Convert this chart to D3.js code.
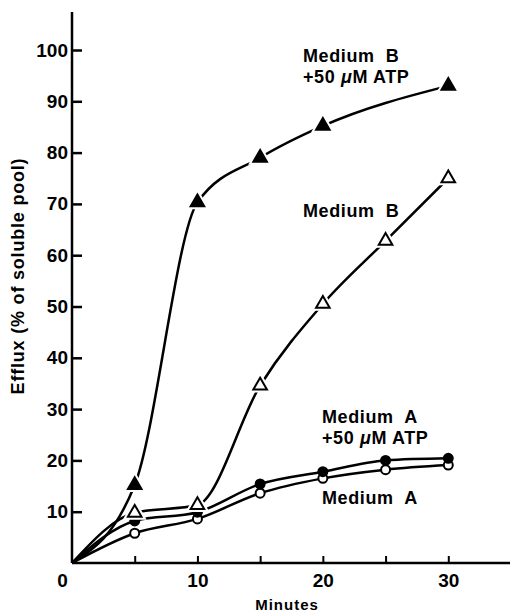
<!DOCTYPE html>
<meta charset='utf-8'>
<html>
<head>
<script src="https://d3js.org/d3.v7.min.js" charset="utf-8"></script>
<style>
  body { margin: 0; background: #fff; }
  text { font-family: "Liberation Sans", Arial, sans-serif; fill: #000; }
  .lab { font-size: 18px; font-weight: bold; white-space: pre; letter-spacing: 0.6px; }
</style>
</head>
<body>
<div id="chart-container"></div>
<script>
// minutes sampled
const minutes = [0, 5, 10, 15, 20, 25, 30];
// series values (% of soluble pool), null = no point
const mediumBAtp = [0, 15.2, 70.3, 79.0, 85.2, null, 93.0];
const mediumB    = [0, 9.8, 11.3, 34.6, 50.5, 62.8, 75.0];
const mediumAAtp = [0, 8.2, 9.9, 15.4, 17.8, 20.0, 20.4];
const mediumA    = [0, 5.8, 8.6, 13.6, 16.5, 18.2, 19.1];
const yTicks = [10, 20, 30, 40, 50, 60, 70, 80, 90, 100];
const xTicks = [0, 10, 20, 30];
const xMinor = [5, 10, 15, 20, 25, 30];

const svgWidth = 510, svgHeight = 613;
const svg = d3.select('#chart-container').append('svg')
  .attr('width', svgWidth).attr('height', svgHeight);

// scales
const x = d3.scaleLinear().domain([0, 35]).range([72, 511]);
const y = d3.scaleLinear().domain([0, 100]).range([563, 50]);

// y axis line (runs a bit above 100)
svg.append('line')
  .attr('x1', x(0)).attr('x2', x(0))
  .attr('y1', y(0)).attr('y2', 12)
  .attr('stroke', '#000').attr('stroke-width', 2.5);
// x axis line
svg.append('line')
  .attr('x1', x(0)).attr('x2', x(35))
  .attr('y1', y(0)).attr('y2', y(0))
  .attr('stroke', '#000').attr('stroke-width', 2.5);

const yAxis = svg.append('g')
  .attr('transform', 'translate(' + x(0) + ',0)')
  .call(d3.axisLeft(y).tickValues(yTicks).tickSize(-10).tickPadding(4));
yAxis.select('.domain').remove();
yAxis.selectAll('line').attr('stroke-width', 2.5);
yAxis.selectAll('text')
  .style('font-size', '19px').style('font-weight', 'bold')
  .style('font-family', '"Liberation Sans", Arial, sans-serif');

const xMinorAxis = svg.append('g')
  .attr('transform', 'translate(0,' + y(0) + ')')
  .call(d3.axisBottom(x).tickValues(xMinor).tickSize(-7).tickFormat(''));
xMinorAxis.select('.domain').remove();
xMinorAxis.selectAll('line').attr('stroke-width', 2);

const xAxis = svg.append('g')
  .attr('transform', 'translate(0,' + y(0) + ')')
  .call(d3.axisBottom(x).tickValues(xTicks).tickSize(0).tickPadding(11));
xAxis.select('.domain').remove();
xAxis.selectAll('text')
  .style('font-size', '19px').style('font-weight', 'bold')
  .style('font-family', '"Liberation Sans", Arial, sans-serif')
  .attr('dx', d => d === 0 ? -10 : 0);

// axis titles
svg.append('text')
  .attr('transform', 'translate(24,' + 276 + ') rotate(-90)')
  .attr('text-anchor', 'middle')
  .style('font-size', '18px').style('font-weight', 'bold')
  .style('letter-spacing', '0.8px')
  .text('Efflux (% of soluble pool)');
svg.append('text')
  .attr('x', 287).attr('y', 610)
  .attr('text-anchor', 'middle')
  .style('font-size', '15px').style('font-weight', 'bold')
  .style('letter-spacing', '1px')
  .text('Minutes');

// lines
const line = d3.line()
  .x(d => x(d[0])).y(d => y(d[1]))
  .curve(d3.curveMonotoneX);

const series = [
  {vals: mediumA, mark: 'circle', fill: '#fff'},
  {vals: mediumAAtp, mark: 'circle', fill: '#000'},
  {vals: mediumB, mark: 'triangle', fill: '#fff'},
  {vals: mediumBAtp, mark: 'triangle', fill: '#000'}
];

series.forEach(s => {
  const pts = minutes.map((m, i) => [m, s.vals[i]]).filter(d => d[1] !== null);
  svg.append('path')
    .datum(pts)
    .attr('d', line)
    .attr('fill', 'none')
    .attr('stroke', '#000')
    .attr('stroke-width', 2.5);
});

// markers, with a thin white halo so lines stop short of them
const tri = d3.symbol().type(d3.symbolTriangle).size(80);
series.forEach(s => {
  const pts = minutes.map((m, i) => [m, s.vals[i]]).filter(d => d[1] !== null && d[0] > 0);
  const g = svg.append('g');
  if (s.mark === 'circle') {
    g.selectAll('circle').data(pts).enter().append('circle')
      .attr('cx', d => x(d[0])).attr('cy', d => y(d[1]))
      .attr('r', 4.5)
      .attr('fill', s.fill).attr('stroke', '#000').attr('stroke-width', 2);
  } else {
    g.selectAll('.halo').data(pts).enter().append('path')
      .attr('d', tri)
      .attr('transform', d => 'translate(' + x(d[0]) + ',' + y(d[1]) + ')')
      .attr('fill', '#fff').attr('stroke', '#fff').attr('stroke-width', 6);
    g.selectAll('.mk').data(pts).enter().append('path')
      .attr('d', tri)
      .attr('transform', d => 'translate(' + x(d[0]) + ',' + y(d[1]) + ')')
      .attr('fill', s.fill).attr('stroke', '#000').attr('stroke-width', 2);
  }
});

// annotations
function label(xp, yp, lines) {
  const t = svg.append('text').attr('class', 'lab');
  lines.forEach((l, i) => {
    const ts = t.append('tspan').attr('x', xp).attr('y', yp + i * 21);
    if (l.indexOf('μ') >= 0) {
      const parts = l.split('μ');
      ts.text(parts[0]);
      t.append('tspan').style('font-style', 'italic').text('μ');
      t.append('tspan').text(parts[1]);
    } else {
      ts.text(l);
    }
  });
}
label(303, 62, ['Medium  B', '+50 μM ATP']);
label(303, 217, ['Medium  B']);
label(322, 423, ['Medium  A', '+50 μM ATP']);
label(322, 504, ['Medium  A']);
</script>
</body>
</html>
